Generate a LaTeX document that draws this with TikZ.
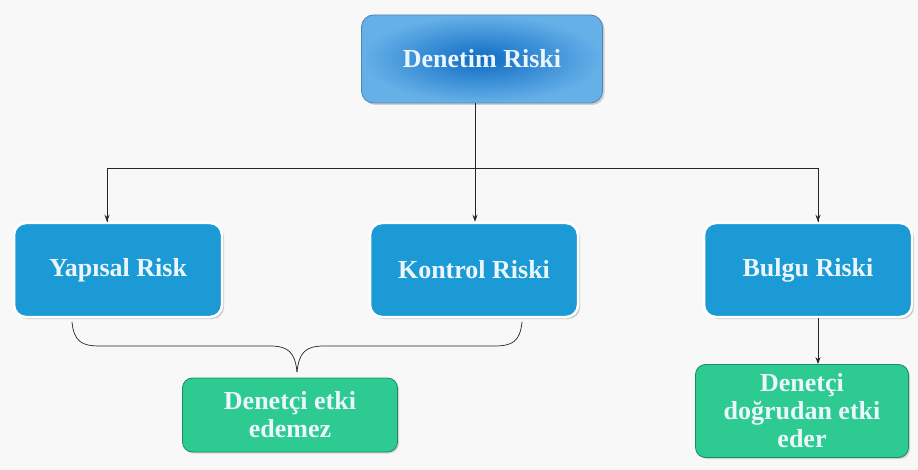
\documentclass[tikz,border=0pt]{standalone}
\usepackage{fontspec}
\setmainfont{Liberation Serif}
\usetikzlibrary{shadows,arrows.meta}
\definecolor{bg}{HTML}{F8F8F8}
\definecolor{boxblue}{HTML}{1B9AD6}
\definecolor{topin}{HTML}{0E6CC4}
\definecolor{topout}{HTML}{66B0E8}
\definecolor{topedge}{HTML}{4A86B8}
\definecolor{boxgreen}{HTML}{2DCB91}
\definecolor{greenedge}{HTML}{1E8A5E}
\definecolor{txt}{HTML}{EAF6FB}
\tikzset{
  x=1pt,y=-1pt,
  lbl/.style={font=\fontsize{26}{28}\selectfont\bfseries, text=txt, align=center},
  topbox/.style={lbl, rounded corners=12pt, minimum width=241pt, minimum height=88pt,
    inner color=topin, outer color=topout, draw=topedge, line width=0.8pt,
    drop shadow={shadow xshift=2pt,shadow yshift=-2pt,opacity=0.35}},
  bluebox/.style={lbl, rounded corners=12pt, minimum width=208pt, minimum height=94pt,
    fill=boxblue, draw=white, line width=2.5pt,
    drop shadow={shadow xshift=2pt,shadow yshift=-2pt,opacity=0.4}},
  greenbox/.style={lbl, rounded corners=10pt, fill=boxgreen, draw=greenedge, line width=0.8pt,
    inner sep=2pt,
    drop shadow={shadow xshift=1.5pt,shadow yshift=-1.5pt,opacity=0.3}},
  conn/.style={draw=black!85, line width=0.8pt},
  arr/.style={conn, -{Stealth[length=7pt,width=5pt]}},
}
\begin{document}
\begin{tikzpicture}
\fill[bg] (0,0) rectangle (918,470);
\useasboundingbox (0,0) rectangle (918,470);
\node[topbox] (top) at (482,59) {Denetim Riski};
\node[bluebox] (yap) at (118,270) {Yapısal Risk};
\node[bluebox] (kon) at (474,270) {Kontrol Riski};
\node[bluebox] (bul) at (808,270) {Bulgu Riski};
\node[greenbox, minimum width=215pt, minimum height=74pt] (g1) at (290,415) {Denetçi etki\\edemez};
\node[greenbox, minimum width=213pt, minimum height=93pt] (g2) at (802,411) {Denetçi\\doğrudan etki\\eder};
\coordinate (split) at (475,168);
\draw[conn] (top.south -| split) -- (split);
\draw[conn] (yap.north -| 107,0) |- (split);
\draw[conn] (split) -| (bul.north -| 818,0);
\draw[arr] (107,168) -- (yap.north -| 107,0);
\draw[arr] (split) -- (kon.north -| split);
\draw[arr] (818,168) -- (bul.north -| 818,0);
\draw[arr] (bul.south -| 818,0) -- (g2.north -| 818,0);
% brace
\coordinate (bl) at (72,322);
\coordinate (br) at (522,322);
\coordinate (tip) at (297,372);
\draw[conn, line width=0.7pt] (bl) .. controls (74,342) and (82,346) .. (100,346)
  -- (270,346) .. controls (288,346) and (295,352) .. (tip);
\draw[conn, line width=0.7pt] (br) .. controls (520,342) and (512,346) .. (494,346)
  -- (324,346) .. controls (306,346) and (299,352) .. (tip);
\end{tikzpicture}
\end{document}
